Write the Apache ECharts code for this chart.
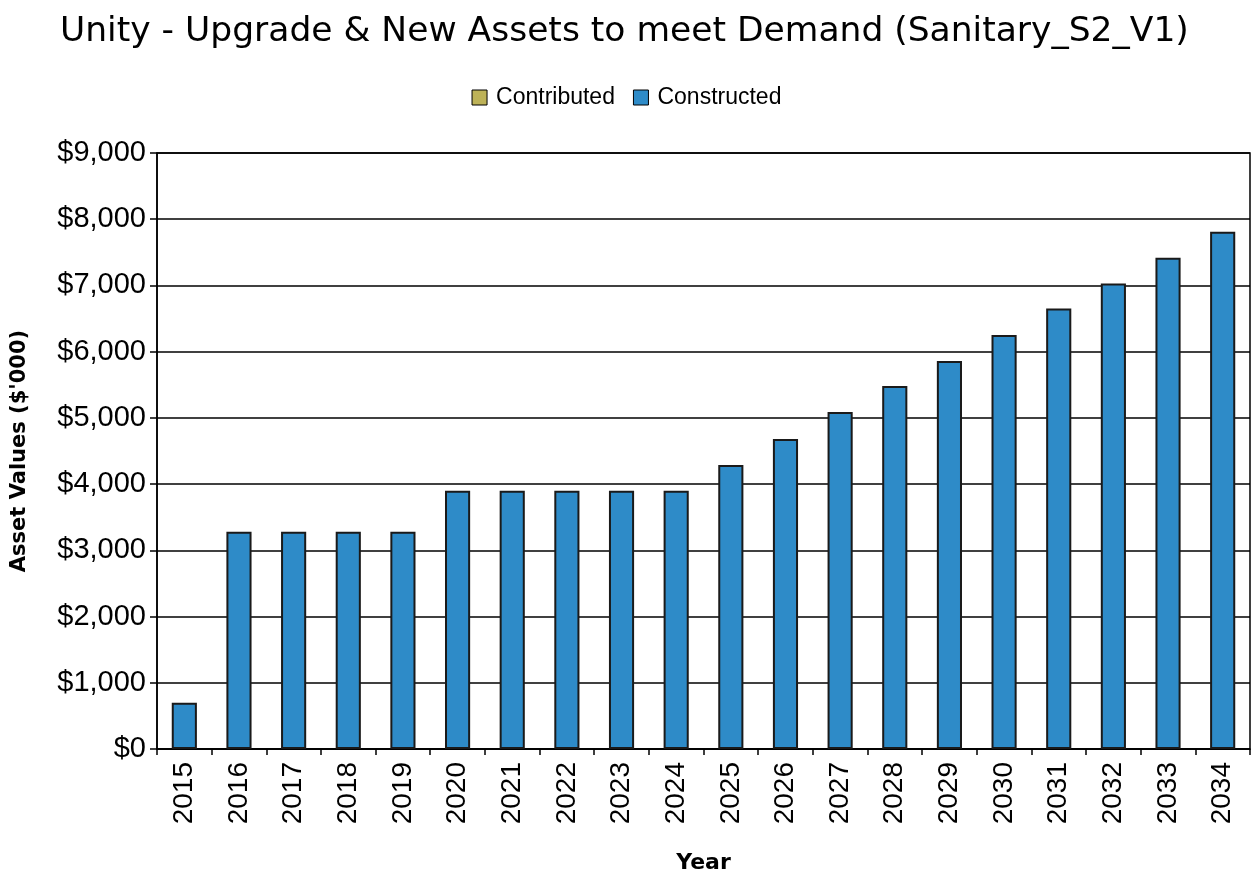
<!DOCTYPE html>
<html><head><meta charset="utf-8">
<script src="https://cdn.jsdelivr.net/npm/echarts@6/dist/echarts.min.js"></script>
<style>html,body{margin:0;padding:0;background:#fff}#c{width:1253px;height:877px}</style>
</head><body><div id="c"></div>
<script>
const years = ['2015','2016','2017','2018','2019','2020','2021','2022','2023','2024','2025','2026','2027','2028','2029','2030','2031','2032','2033','2034'];
const contributed = [0,0,0,0,0,0,0,0,0,0,0,0,0,0,0,0,0,0,0,0];
const constructed = [700,3280,3280,3280,3280,3900,3900,3900,3900,3900,4290,4680,5090,5480,5860,6250,6650,7030,7420,7810];

const chart = echarts.init(document.getElementById('c'), null, {renderer:'canvas'});
chart.setOption({
  animation:false,
  backgroundColor:'#fff',
  title:{text:'Unity - Upgrade & New Assets to meet Demand (Sanitary_S2_V1)', left:55, top:10,
    textStyle:{fontFamily:'DejaVu Sans', fontWeight:'normal', fontSize:34.5, color:'#000'}},
  legend:{top:81, left:'center', itemWidth:15, itemHeight:15, itemGap:18, icon:'rect',
    textStyle:{fontFamily:'Liberation Sans', fontSize:23, color:'#000', padding:[0,0,0,4]},
    data:[{name:'Contributed', itemStyle:{borderColor:'#000',borderWidth:1}},{name:'Constructed', itemStyle:{borderColor:'#000',borderWidth:1}}]},
  grid:{left:157, right:3, top:153, bottom:128, containLabel:false, outerBoundsMode:'none',
    show:true, borderColor:'#000', borderWidth:1.5, backgroundColor:'transparent'},
  xAxis:{type:'category', data:years, name:'Year', nameLocation:'middle', nameGap:103,
    nameTextStyle:{fontFamily:'DejaVu Sans', fontWeight:'bold', fontSize:22, color:'#000'},
    axisLine:{lineStyle:{color:'#000', width:1.5}},
    axisTick:{show:true, length:6, lineStyle:{color:'#000', width:1.5}},
    axisLabel:{rotate:90, fontFamily:'Liberation Sans', fontSize:28, color:'#000', margin:13}},
  yAxis:{type:'value', min:0, max:9000, interval:1000,
    name:"Asset Values ($'000)", nameLocation:'middle', nameGap:127,
    nameTextStyle:{fontFamily:'DejaVu Sans', fontWeight:'bold', fontSize:21, color:'#000'},
    axisLine:{show:true, lineStyle:{color:'#000', width:1.5}},
    axisTick:{show:true, length:7, lineStyle:{color:'#000', width:1.5}},
    splitLine:{lineStyle:{color:'#000', width:1.5}},
    axisLabel:{fontFamily:'Liberation Sans', fontSize:29, color:'#000', margin:11,
      formatter:v=>'$'+v.toLocaleString('en-US')}},
  series:[
    {name:'Contributed', type:'bar', stack:'a', data:contributed, barWidth:'46%',
      itemStyle:{color:'#BDB257', borderColor:'#000', borderWidth:0}},
    {name:'Constructed', type:'bar', stack:'a', data:constructed, barWidth:'46%',
      itemStyle:{color:'#2E8BC8', borderColor:'#1a1a1a', borderWidth:2}}
  ]
});
</script>
</body></html>
